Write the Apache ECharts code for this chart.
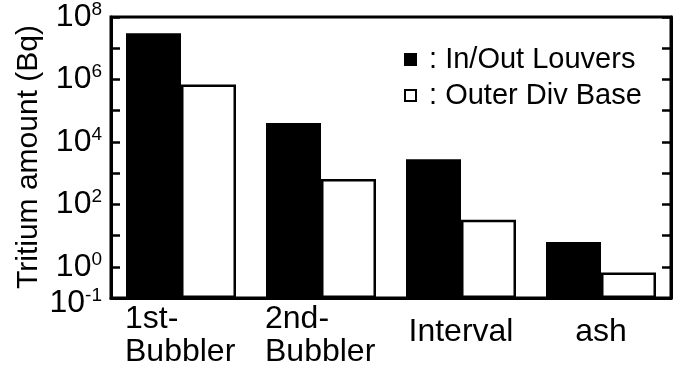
<!DOCTYPE html>
<html>
<head>
<meta charset="utf-8">
<script src="https://cdn.jsdelivr.net/npm/echarts@6/dist/echarts.min.js"></script>
<style>
  html, body { margin: 0; padding: 0; background: #fff; }
  #chart { width: 681px; height: 372px; }
</style>
</head>
<body>
<div id="chart"></div>
<script>
// Sampling locations along the x axis
const categories = ['1st-\nBubbler', '2nd-\nBubbler', 'Interval', 'ash'];

// Tritium amount per location (Bq)
const louvers = [3.0e7, 4.0e4, 2800, 6.2];
const outerDivBase = [6.9e5, 650, 32, 0.65];

const seriesNames = ['In/Out Louvers', 'Outer Div Base'];
const yTitle = 'Tritium amount (Bq)';

// Decades that get a printed label on the y axis
const labelledExponents = [-1, 0, 2, 4, 6, 8];

const FONT = '"Liberation Sans", Arial, Helvetica, sans-serif';

const chart = echarts.init(document.getElementById('chart'), null, { renderer: 'canvas' });

function yLabel(v) {
  const e = Math.round(Math.log10(v));
  if (labelledExponents.indexOf(e) < 0) return '';
  // the bottom label sits a little lower so it clears the 10^0 label
  if (e === labelledExponents[0]) return '{bl|10}{sl|' + e + '}';
  return '{b|10}{s|' + e + '}';
}

function xLabel(name) {
  const lines = name.split('\n');
  if (lines.length > 1) {
    return lines.map(l => '{a|' + l + '}').join('\n');
  }
  return '{c|' + name + '}';
}

const yAxisBase = {
  type: 'log',
  logBase: 10,
  min: 0.1,
  max: 1e8,
  startValue: 0.1,
  splitNumber: 9,
  splitLine: { show: false },
  axisLine: { show: true, lineStyle: { color: '#000', width: 3 } },
  axisTick: { show: true, inside: true, length: 9, lineStyle: { color: '#000', width: 2.5 } }
};

chart.setOption({
  backgroundColor: '#fff',
  animation: false,
  textStyle: { fontFamily: FONT, color: '#000' },
  grid: {
    left: 111, right: 10, top: 17, bottom: 74,
    show: true, borderColor: '#000', borderWidth: 3, backgroundColor: 'transparent'
  },
  // rotated y-axis title
  graphic: [{
    type: 'text',
    x: 29,
    y: 157,
    rotation: Math.PI / 2,
    style: {
      text: yTitle,
      fontFamily: FONT,
      fontSize: 30,
      fill: '#000',
      align: 'center',
      verticalAlign: 'middle'
    }
  }],
  legend: {
    orient: 'vertical',
    left: 399,
    top: 40,
    itemWidth: 11,
    itemHeight: 11,
    itemGap: 7,
    icon: 'rect',
    formatter: ' : {name}',
    textStyle: { fontFamily: FONT, fontSize: 29, color: '#000' },
    data: seriesNames
  },
  xAxis: {
    type: 'category',
    data: categories,
    axisLine: { show: true, lineStyle: { color: '#000', width: 3 } },
    axisTick: { show: false },
    axisLabel: {
      margin: 5,
      interval: 0,
      formatter: xLabel,
      rich: {
        a: { fontFamily: FONT, fontSize: 32, lineHeight: 33, width: 112, align: 'left', color: '#000' },
        c: { fontFamily: FONT, fontSize: 32, lineHeight: 33, padding: [26, 0, 0, 0], color: '#000' }
      }
    }
  },
  yAxis: [
    Object.assign({}, yAxisBase, {
      position: 'left',
      axisLabel: {
        show: true,
        margin: 9,
        showMinLabel: true,
        showMaxLabel: true,
        hideOverlap: false,
        formatter: yLabel,
        rich: {
          b: { fontFamily: FONT, fontSize: 32, color: '#000' },
          s: { fontFamily: FONT, fontSize: 19, color: '#000', padding: [0, 0, 15, 0] },
          bl: { fontFamily: FONT, fontSize: 32, color: '#000', padding: [10, 0, 0, 0] },
          sl: { fontFamily: FONT, fontSize: 19, color: '#000', padding: [0, 0, 5, 0] }
        }
      }
    }),
    Object.assign({}, yAxisBase, {
      position: 'right',
      axisLabel: { show: false }
    })
  ],
  series: [
    {
      name: seriesNames[0],
      type: 'bar',
      data: louvers,
      barWidth: 55,
      barGap: '0%',
      itemStyle: { color: '#000', borderColor: '#000', borderWidth: 2 }
    },
    {
      name: seriesNames[1],
      type: 'bar',
      data: outerDivBase,
      barWidth: 55,
      barGap: '0%',
      itemStyle: { color: '#fff', borderColor: '#000', borderWidth: 2.5 }
    }
  ]
});
</script>
</body>
</html>
